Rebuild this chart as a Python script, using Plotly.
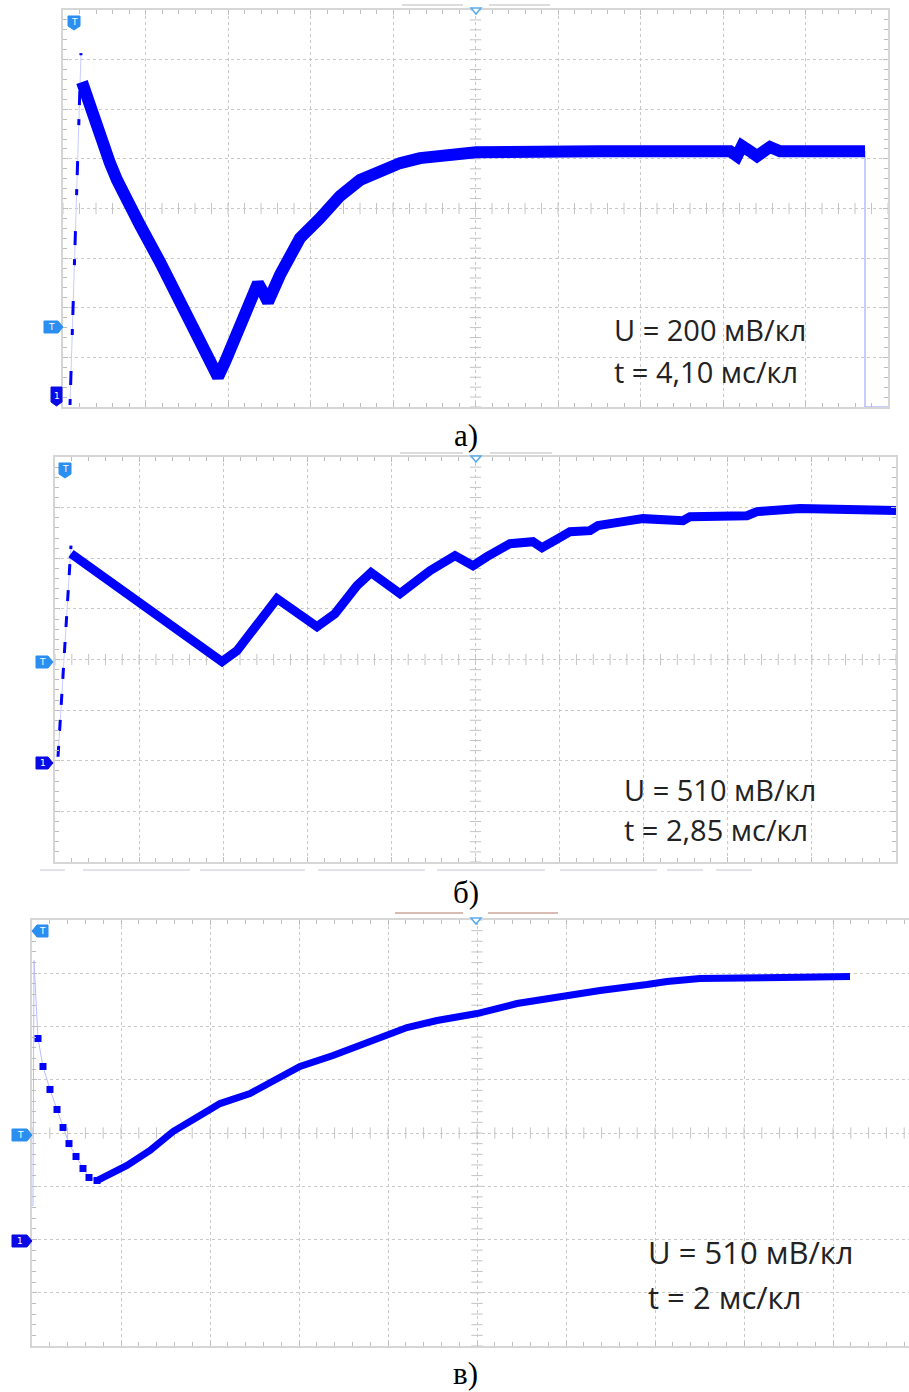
import numpy as np
import plotly.graph_objects as go

W, H = 909, 1392

# ---------------- DATA (time in ms, voltage in V) ----------------
# Panel а) : 200 mV/div, 4.10 ms/div
a_rise_t = [0.348, 0.895]
a_rise_v = [-0.032, 1.386]
a_t = [0.944, 1.342, 1.839, 2.336, 2.684, 3.081, 3.827, 4.821, 5.815, 6.808, 7.405, 7.703,
       8.051, 8.796, 9.393, 9.691, 9.939, 10.188, 10.784, 11.778, 12.772, 13.766, 14.760,
       15.754, 16.748, 17.742, 19.233, 20.525, 26.687, 33.148, 33.496, 33.745, 34.142,
       34.490, 35.136, 35.633, 39.857]
a_v = [1.270, 1.165, 1.044, 0.943, 0.875, 0.802, 0.693, 0.544, 0.391, 0.230, 0.129, 0.081,
       0.141, 0.290, 0.411, 0.459, 0.423, 0.383, 0.492, 0.641, 0.721, 0.810, 0.875,
       0.915, 0.943, 0.963, 0.979, 0.987, 0.991, 0.991, 0.971, 1.012, 0.991,
       0.971, 1.008, 0.991, 0.991]
a_tail_t = [39.857, 39.857, 41.0]
a_tail_v = [0.991, -0.040, -0.040]

# Panel б) : 510 mV/div, 2.85 ms/div
b_rise_t = [0.102, 0.542]
b_rise_v = [0.040, 2.167]
b_t = [0.542, 5.659, 6.168, 7.523, 8.879, 9.489, 10.234, 10.709, 11.691, 12.708, 13.555,
       14.165, 14.640, 15.419, 16.198, 16.503, 17.046, 17.452, 18.130, 18.401, 19.248,
       19.926, 21.282, 21.519, 23.451, 23.790, 25.246, 28.500]
b_v = [2.086, 0.998, 1.109, 1.633, 1.351, 1.482, 1.764, 1.895, 1.683, 1.915, 2.066,
       1.965, 2.056, 2.187, 2.207, 2.147, 2.238, 2.308, 2.318, 2.369, 2.409,
       2.439, 2.419, 2.459, 2.469, 2.510, 2.540, 2.520]

# Panel в) : 510 mV/div, 2 ms/div
c_start_t = [0.0, 0.022, 0.045, 0.135]
c_start_v = [0.326, 0.326, 2.672, 1.925]
c_samp_t = [0.135, 0.247, 0.404, 0.562, 0.697, 0.831, 0.989, 1.146, 1.281, 1.461]
c_samp_v = [1.925, 1.657, 1.437, 1.245, 1.073, 0.919, 0.795, 0.680, 0.594, 0.565]
c_t = [1.461, 1.753, 2.135, 2.652, 3.169, 3.775, 4.225, 4.899, 5.640, 6.022, 6.764, 7.528,
       7.978, 8.427, 9.101, 10.000, 10.899, 11.933, 12.764, 13.820, 14.270, 15.011,
       15.753, 16.876, 18.382]
c_v = [0.565, 0.632, 0.709, 0.852, 1.034, 1.188, 1.302, 1.398, 1.571, 1.657, 1.762, 1.877,
       1.954, 2.030, 2.097, 2.164, 2.260, 2.337, 2.385, 2.442, 2.471, 2.500,
       2.509, 2.509, 2.519]

scale_texts = [("U = 200 мВ/кл", "t = 4,10 мс/кл"),
               ("U = 510 мВ/кл", "t = 2,85 мс/кл"),
               ("U = 510 мВ/кл", "t = 2 мс/кл")]
captions = ["а)", "б)", "в)"]

# ---------------- helpers ----------------
def X(px):
    return px / W

def Y(py):
    return 1 - py / H

BLUE = "#0000ff"
LIGHT = "#2a8ff0"
DARK = "#0a0ae6"
GRID = "#c9c9c9"
FRAME = "#d6d6d6"

fig = go.Figure()

panels = [
    dict(l=63, r=888, t=10, b=407, xr=[0, 41.0], yr=[-0.04, 1.56], xd=4.1, yd=0.2, mirror_y=True),
    dict(l=55, r=896, t=457, b=862, xr=[0, 28.5], yr=[-1.02, 3.06], xd=2.85, yd=0.51, mirror_y=True),
    dict(l=32, r=909, t=920, b=1346, xr=[0, 2 * 877 / 89], yr=[-1.02, 3.06], xd=2.0, yd=0.51, mirror_y=False),
]

layout_axes = {}
for i, p in enumerate(panels):
    sfx = "" if i == 0 else str(i + 1)
    common = dict(showgrid=True, gridcolor=GRID, griddash="dot", gridwidth=1,
                  ticks="inside", ticklen=5, tickcolor="#bdbdbd", tickwidth=1,
                  showline=True, linecolor=FRAME, linewidth=2,
                  showticklabels=False, zeroline=False, fixedrange=True)
    layout_axes["xaxis" + sfx] = dict(
        domain=[X(p["l"]), X(p["r"])], range=p["xr"], tick0=0, dtick=p["xd"],
        anchor="y" + sfx, mirror="ticks",
        minor=dict(dtick=p["xd"] / 5, tick0=0, ticks="inside", ticklen=4,
                   tickcolor="#bdbdbd", showgrid=False), **common)
    layout_axes["yaxis" + sfx] = dict(
        domain=[Y(p["b"]), Y(p["t"])], range=p["yr"], tick0=p["yr"][0], dtick=p["yd"],
        anchor="x" + sfx, mirror="ticks" if p["mirror_y"] else False,
        minor=dict(dtick=p["yd"] / 5, tick0=p["yr"][0], ticks="inside", ticklen=4,
                   tickcolor="#bdbdbd", showgrid=False), **common)

    xs = np.arange(p["xr"][0], p["xr"][1] + 1e-9, p["xd"] / 5)
    ymid = (p["yr"][0] + p["yr"][1]) / 2
    xmid = 5 * p["xd"]
    ys = np.arange(p["yr"][0], p["yr"][1] + 1e-9, p["yd"] / 5)
    fig.add_trace(go.Scatter(x=xs, y=[ymid] * len(xs), mode="markers",
                             marker=dict(symbol="line-ns", size=8, line=dict(color="#c4c4c4", width=1)),
                             xaxis="x" + sfx, yaxis="y" + sfx, hoverinfo="skip"))
    fig.add_trace(go.Scatter(x=[xmid] * len(ys), y=ys, mode="markers",
                             marker=dict(symbol="line-ew", size=8, line=dict(color="#c4c4c4", width=1)),
                             xaxis="x" + sfx, yaxis="y" + sfx, hoverinfo="skip"))

fig.update_layout(**layout_axes)

# ----- panel а traces -----
fig.add_trace(go.Scatter(x=a_rise_t, y=a_rise_v, mode="lines", line=dict(color="#c8ccff", width=1),
                         xaxis="x", yaxis="y", hoverinfo="skip"))
fig.add_trace(go.Scatter(x=a_rise_t, y=a_rise_v, mode="lines",
                         line=dict(color=BLUE, width=3, dash="6px,14px,14px,36px"),
                         xaxis="x", yaxis="y", hoverinfo="skip"))
fig.add_trace(go.Scatter(x=a_tail_t, y=a_tail_v, mode="lines", line=dict(color="#8f9cff", width=1),
                         xaxis="x", yaxis="y", hoverinfo="skip"))
fig.add_trace(go.Scatter(x=a_t, y=a_v, mode="lines", line=dict(color=BLUE, width=12),
                         xaxis="x", yaxis="y", hoverinfo="skip"))

# ----- panel б traces -----
fig.add_trace(go.Scatter(x=b_rise_t, y=b_rise_v, mode="lines", line=dict(color="#c8ccff", width=1),
                         xaxis="x2", yaxis="y2", hoverinfo="skip"))
fig.add_trace(go.Scatter(x=b_rise_t, y=b_rise_v, mode="lines",
                         line=dict(color=BLUE, width=3, dash="11px,15px"),
                         xaxis="x2", yaxis="y2", hoverinfo="skip"))
fig.add_trace(go.Scatter(x=b_t, y=b_v, mode="lines", line=dict(color=BLUE, width=9),
                         xaxis="x2", yaxis="y2", hoverinfo="skip"))

# ----- panel в traces -----
fig.add_trace(go.Scatter(x=c_start_t + c_samp_t, y=c_start_v + c_samp_v, mode="lines",
                         line=dict(color="#b8bcff", width=1), xaxis="x3", yaxis="y3", hoverinfo="skip"))
fig.add_trace(go.Scatter(x=c_samp_t, y=c_samp_v, mode="markers",
                         marker=dict(symbol="square", size=7, color=BLUE),
                         xaxis="x3", yaxis="y3", hoverinfo="skip"))
fig.add_trace(go.Scatter(x=c_t, y=c_v, mode="lines", line=dict(color=BLUE, width=7),
                         xaxis="x3", yaxis="y3", hoverinfo="skip"))

# ---------------- decorations ----------------
shapes = []
annotations = []

def tag(x0, x1, y0, y1, color, text, point):
    if point == "right":
        pts = [(x0, y0), (x1 - 5, y0), (x1, (y0 + y1) / 2), (x1 - 5, y1), (x0, y1)]
    elif point == "down":
        pts = [(x0, y0), (x1, y0), (x1, y1 - 4), ((x0 + x1) / 2, y1), (x0, y1 - 4)]
    else:
        pts = [(x0 + 5, y0), (x1, y0), (x1, y1), (x0 + 5, y1), (x0, (y0 + y1) / 2)]
    path = "M " + " L ".join(f"{X(a):.5f},{Y(b):.5f}" for a, b in pts) + " Z"
    shapes.append(dict(type="path", path=path, xref="paper", yref="paper",
                       fillcolor=color, line=dict(color=color, width=1)))
    cx = (x0 + x1) / 2 - (2 if point == "right" else 0) + (2 if point == "left" else 0)
    cy = (y0 + y1) / 2 - (1 if point == "down" else 0)
    annotations.append(dict(x=X(cx), y=Y(cy), xref="paper", yref="paper", text=text,
                            showarrow=False, font=dict(family="DejaVu Sans", size=9, color="white"),
                            xanchor="center", yanchor="middle"))

def seg(x0, x1, y, color, w=2):
    shapes.append(dict(type="line", x0=X(x0), x1=X(x1), y0=Y(y), y1=Y(y), xref="paper", yref="paper",
                       line=dict(color=color, width=w)))

def tri(xc, ytop):
    path = f"M {X(xc-5):.5f},{Y(ytop):.5f} L {X(xc+5):.5f},{Y(ytop):.5f} L {X(xc):.5f},{Y(ytop+6):.5f} Z"
    shapes.append(dict(type="path", path=path, xref="paper", yref="paper",
                       fillcolor="white", line=dict(color="#5aaaf0", width=1.5)))

tag(68, 80, 16, 30, LIGHT, "T", "down")
tag(44, 63, 321, 333, LIGHT, "T", "right")
tag(51, 62, 387, 406, DARK, "1", "down")
tag(59, 71, 463, 478, LIGHT, "T", "down")
tag(36, 53, 656, 668, LIGHT, "T", "right")
tag(36, 53, 757, 769, DARK, "1", "right")
tag(32, 48, 925, 937, LIGHT, "T", "left")
tag(12, 32, 1129, 1141, LIGHT, "T", "right")
tag(12, 32, 1235, 1247, DARK, "1", "right")

tri(476, 8)
tri(476, 456)
tri(476, 918)

seg(402, 463, 5, "#dcdcdc")
seg(489, 550, 5, "#dcdcdc")
seg(400, 463, 453, "#dcdcdc")
seg(490, 552, 453, "#dcdcdc")
for x0, x1 in [(40, 65), (83, 190), (200, 305), (318, 425), (437, 545), (560, 657), (667, 703), (716, 752)]:
    seg(x0, x1, 870, "#e2e2ea")
seg(395, 463, 913, "#d8bcb4")
seg(488, 558, 913, "#d8bcb4")

text_pos = [(612, 330, 371, 29), (622, 789, 829, 29), (646, 1252, 1297, 31)]
for (u, t), (xl, yu, yt, fs) in zip(scale_texts, text_pos):
    for txt, yy in ((u, yu), (t, yt)):
        annotations.append(dict(x=X(xl), y=Y(yy), xref="paper", yref="paper", text=txt,
                                showarrow=False, xanchor="left", yanchor="middle",
                                font=dict(family="Open Sans", size=fs, color="#222222")))

for cap, yy in zip(captions, [436, 893, 1373]):
    annotations.append(dict(x=X(466), y=Y(yy), xref="paper", yref="paper", text=cap,
                            showarrow=False, xanchor="center", yanchor="middle",
                            font=dict(family="Liberation Serif", size=31, color="#000000")))

fig.update_layout(width=W, height=H, margin=dict(l=0, r=0, t=0, b=0),
                  paper_bgcolor="white", plot_bgcolor="white", showlegend=False,
                  shapes=shapes, annotations=annotations)

fig.write_html("out.html")
